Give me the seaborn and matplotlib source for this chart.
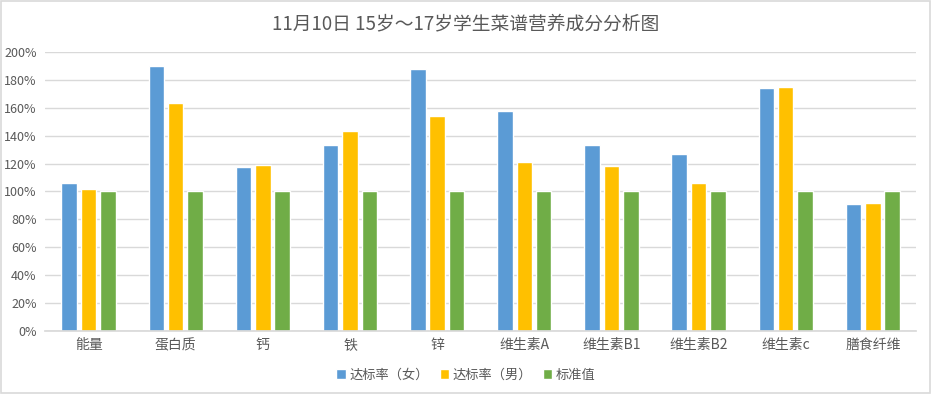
import matplotlib
matplotlib.use("Agg")
import matplotlib.pyplot as plt
import seaborn as sns
import pandas as pd
from matplotlib.ticker import PercentFormatter

categories = ["能量", "蛋白质", "钙", "铁", "锌", "维生素A", "维生素B1", "维生素B2", "维生素c", "膳食纤维"]
female = [106, 190, 117.5, 133.3, 187.8, 157.7, 133.3, 127, 174, 91]
male = [102, 163.4, 119, 143.4, 154, 121, 118.3, 106, 175, 91.8]
standard = [100, 100, 100, 100, 100, 100, 100, 100, 100, 100]
series_names = ["达标率（女）", "达标率（男）", "标准值"]
colors = ["#5B9BD5", "#FFC000", "#70AD47"]

rows = []
for name, vals in zip(series_names, [female, male, standard]):
    for c, v in zip(categories, vals):
        rows.append({"cat": c, "series": name, "val": v})
df = pd.DataFrame(rows)

sns.set_theme(style="white")
plt.rcParams['font.family'] = ['Noto Sans CJK SC', 'DejaVu Sans']

fig = plt.figure(figsize=(9.32, 3.94), dpi=100)
ax = fig.add_axes([0.0483, 0.16, 0.935, 0.708])
sns.barplot(data=df, x="cat", y="val", hue="series", palette=colors,
            width=0.667, gap=0.2, ax=ax, saturation=1, legend=True)

ax.set_ylim(0, 200)
ax.set_yticks(range(0, 201, 20))
ax.yaxis.set_major_formatter(PercentFormatter(decimals=0))
ax.grid(axis="y", color="#d9d9d9", linewidth=1)
ax.set_axisbelow(True)
for s in ["top", "right", "left"]:
    ax.spines[s].set_visible(False)
ax.spines["bottom"].set_color("#d9d9d9")
ax.set_xlabel("")
ax.set_ylabel("")
ax.tick_params(axis="both", length=0, colors="#595959")
ax.tick_params(axis="y", pad=6, labelsize=9)
ax.tick_params(axis="x", pad=5, labelsize=10)
ax.set_xlim(-0.5, len(categories) - 0.5)

h, l = ax.get_legend_handles_labels()
ax.legend_.remove()
fig.legend(h, l, loc="center", bbox_to_anchor=(0.5, 0.048), ncol=3, frameon=False,
           fontsize=9.5, handlelength=0.7, handleheight=0.7, handletextpad=0.3,
           columnspacing=0.8, labelcolor="#595959")

fig.suptitle("11月10日 15岁～17岁学生菜谱营养成分分析图", y=0.965, fontsize=13.5, color="#595959")

fig.patches.append(plt.Rectangle((0.001, 0.002), 0.997, 0.995, transform=fig.transFigure,
                                 fill=False, edgecolor="#d9d9d9", linewidth=1.2))
fig.savefig("out.png", dpi=100, facecolor="white")
